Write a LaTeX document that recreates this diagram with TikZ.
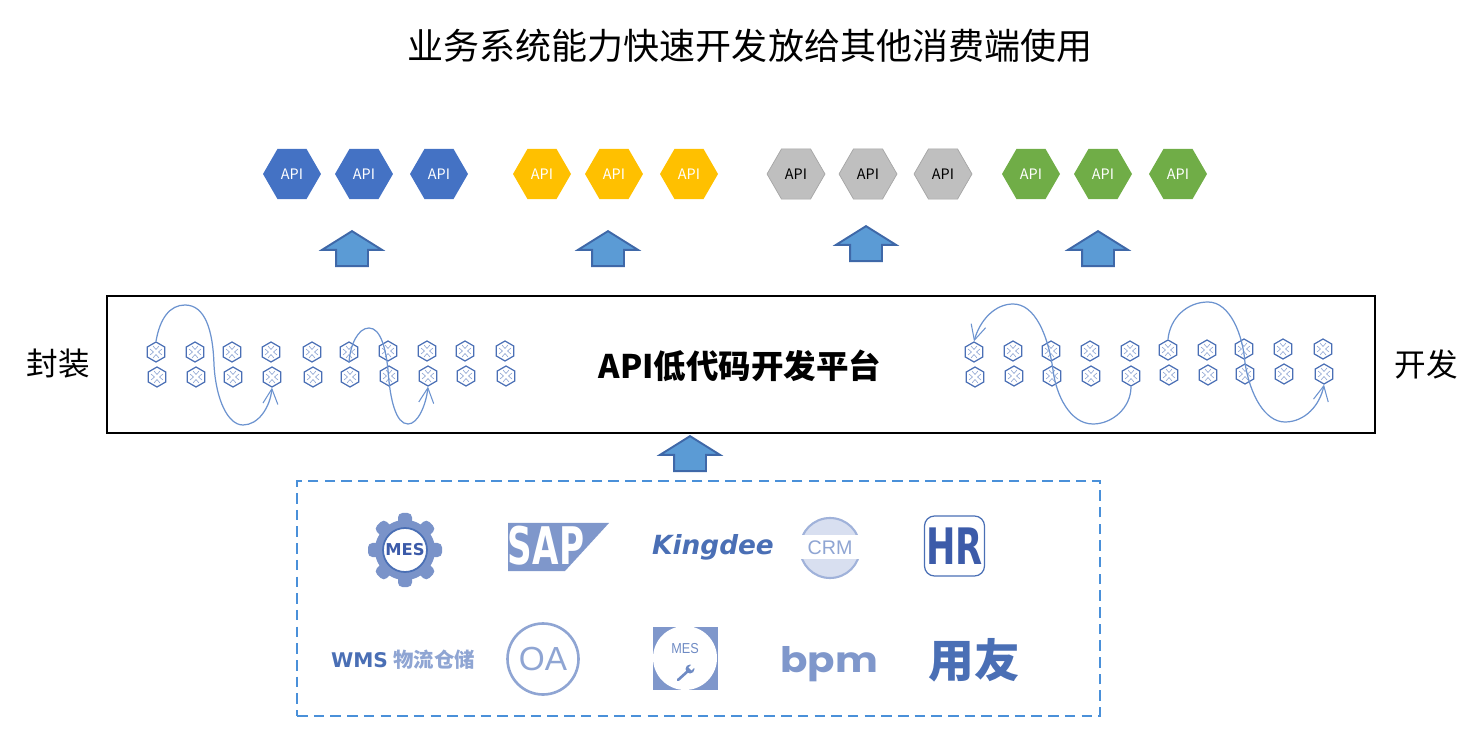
\documentclass[tikz,border=0pt]{standalone}
\usepackage{fontspec}
\setmainfont{Noto Sans CJK SC}
\newfontfamily\logofont{Liberation Sans}
\newfontfamily\heavyfont{DejaVu Sans}
\newfontfamily\bpmfont{Poppins}
\usetikzlibrary{shapes.geometric, shapes.arrows, arrows.meta}
\definecolor{logoblue}{HTML}{4A6FB5}
\definecolor{logolight}{HTML}{7F97CB}
\definecolor{logopale}{HTML}{8FA5D3}
\definecolor{hrblue}{HTML}{3C5BA9}
\definecolor{curveblue}{HTML}{6C93CF}
\definecolor{arrowfill}{HTML}{5B9BD5}
\definecolor{arrowline}{HTML}{3F68A8}
\definecolor{dashblue}{HTML}{4A90D9}
\definecolor{apiblue}{HTML}{4472C4}
\definecolor{apiyellow}{HTML}{FFC000}
\definecolor{apigrey}{HTML}{BFBFBF}
\definecolor{apigreyline}{HTML}{A5A5A5}
\definecolor{apigreen}{HTML}{70AD47}
\tikzset{
  apihex/.style={shape=regular polygon,regular polygon sides=6,inner sep=0pt,minimum size=1.16cm,font=\fontsize{8.2}{10}\selectfont},
  unit/.style={shape=regular polygon,regular polygon sides=6,shape border rotate=30,inner sep=0pt,minimum size=.4cm,draw=logoblue,fill=white,line width=.7pt,
    path picture={\draw[logopale,line width=.35pt,shift={(path picture bounding box.center)}] (6,-3) -- (2.5,0) -- (6,3) (-6,-3) -- (-2.5,0) -- (-6,3) (-3,6) -- (0,2.5) -- (3,6) (-3,-6) -- (0,-2.5) -- (3,-6);}},
  uparrow/.style={shape=single arrow,rotate=90,anchor=tip,single arrow head extend=.28cm,single arrow tip angle=116,inner xsep=0pt,inner ysep=.3cm,minimum width=1.16cm,minimum height=.7cm,fill=arrowfill,draw=arrowline,line width=1.1pt},
  flow/.style={draw=curveblue,line width=.7pt,-{Straight Barb[length=.3cm,width=.3cm,line width=.6pt]}},
  logotext/.style={inner sep=0pt,text=logoblue}
}
\begin{document}
\begin{tikzpicture}[x=.02cm,y=-.02cm]
  \useasboundingbox (0,0) rectangle (1484,756);
  \node[inner sep=0pt,font=\fontsize{20.5}{24}\selectfont] (title) at (750,46) {业务系统能力快速开发放给其他消费端使用};
  % api groups
  \foreach \i/\x in {1/292,2/364,3/439} \node[apihex,fill=apiblue,text=white] (b\i) at (\x,174) {API};
  \foreach \i/\x in {1/542,2/614,3/689} \node[apihex,fill=apiyellow,text=white] (y\i) at (\x,174) {API};
  \foreach \i/\x in {1/796,2/868,3/943} \node[apihex,fill=apigrey,draw=apigreyline,text=black] (g\i) at (\x,174) {API};
  \foreach \i/\x in {1/1031,2/1103,3/1178} \node[apihex,fill=apigreen,text=white] (n\i) at (\x,174) {API};
  \node[uparrow] (up1) at (352,230) {};
  \node[uparrow] (up2) at (608,230) {};
  \node[uparrow] (up3) at (866,225) {};
  \node[uparrow] (up4) at (1098,230) {};
  \node[uparrow] (up5) at (690,435) {};
  % platform
  \node[draw,line width=1.3pt,minimum width=25.36cm,minimum height=2.74cm,inner sep=0pt] (platform) at (741,364.5) {};
  \node[inner sep=0pt,font=\fontsize{18.5}{22}\selectfont\bfseries] (ptext) at (740,366) {API低代码开发平台};
  \node[inner sep=0pt,font=\fontsize{18}{22}\selectfont] (wrap) at (58,364) {封装};
  \node[inner sep=0pt,font=\fontsize{18}{22}\selectfont] (dev) at (1426,364) {开发};
  \foreach \i/\x/\y in {1/156/352,2/195/352,3/232/352,4/271/352,5/312/352,6/349/352,7/388/351,8/427/351,9/465/351,10/505/351} {
    \path (\x,\y) node[unit] (la\i) {} (\x+1,\y+25) node[unit] (lb\i) {};
  }
  \foreach \i/\x/\y in {1/974/352,2/1013/351,3/1051/351,4/1090/351,5/1130/351,6/1168/350,7/1207/350,8/1244/349,9/1283/349,10/1323/349} {
    \path (\x,\y) node[unit] (ra\i) {} (\x+1,\y+25) node[unit] (rb\i) {};
  }
  \draw[flow] (la1.north) .. controls (160,318) and (170,305) .. (185,305) .. controls (205,305) and (213,330) .. (214,365) .. controls (216,400) and (228,425) .. (243,425) .. controls (258,425) and (270,408) .. (lb4.south);
  \draw[flow] (la6.south) .. controls (350,345) and (358,328) .. (369,328) .. controls (381,328) and (386,350) .. (388,370) .. controls (390,400) and (396,424) .. (408,424) .. controls (418,424) and (426,405) .. (lb8.south);
  \draw[flow] (rb5.south) .. controls (1131,408) and (1112,424) .. (1093,424) .. controls (1070,424) and (1056,395) .. (1053,370) .. controls (1048,335) and (1035,304) .. (1013,304) .. controls (995,304) and (980,320) .. (ra1.north);
  \draw[flow] (ra6.north) .. controls (1170,318) and (1187,302) .. (1208,302) .. controls (1230,302) and (1243,335) .. (1245,363) .. controls (1250,395) and (1265,422) .. (1285,422) .. controls (1305,422) and (1320,405) .. (rb10.south);
  % systems
  \node[draw=dashblue,line width=1pt,dash pattern=on 6pt off 3.5pt,minimum width=16.06cm,minimum height=4.7cm,inner sep=0pt] (systems) at (698.5,598.5) {};
  % gear
  \foreach \a in {0,45,...,315} \fill[logolight!90!logoblue,rounded corners=2.5pt,shift={(405,550)},rotate=\a] (-7,-37) rectangle (7,-20);
  \fill[logolight!90!logoblue] (405,550) circle[radius=30];
  \node[circle,draw=logoblue,fill=white,line width=1pt,minimum size=.88cm,inner sep=0pt] (mesring) at (405,550) {};
  \node[logotext,text=hrblue,font=\heavyfont\fontsize{9.3}{12}\selectfont\bfseries] (mesa) at (405,550) {MES};
  % sap
  \fill[logolight] (508,523) -- (609,523) -- (565,571) -- (508,571) -- cycle;
  \node[logotext,text=white,xscale=.66,font=\heavyfont\fontsize{29.5}{30}\selectfont\bfseries] (sap) at (546,546) {SAP};
  \node[logotext,font=\heavyfont\fontsize{15}{18}\selectfont\bfseries\itshape] (kingdee) at (713,547) {Kingdee};
  % crm
  \draw[fill=logopale!35,draw=logopale!85,line width=1.2pt] (830,548) circle[radius=30];
  \fill[white] (798,535) rectangle (862,559);
  \node[logotext,text=logopale,font=\logofont\fontsize{11.2}{13}\selectfont] (crm) at (830,548) {CRM};
  % hr
  \node[draw=logoblue,rounded corners=.2cm,line width=.7pt,minimum size=1.2cm,inner sep=0pt] (hrbox) at (954.5,546) {};
  \node[logotext,text=hrblue,xscale=.7,font=\heavyfont\fontsize{28.6}{30}\selectfont\bfseries] (hr) at (954.5,546) {HR};
  % lower row
  \node[logotext,font=\heavyfont\fontsize{11.5}{15}\selectfont\bfseries] (wms) at (359.5,660) {WMS};
  \node[logotext,text=logopale,font=\fontsize{11.6}{14}\selectfont\bfseries] (store) at (434,660) {物流仓储};
  \node[circle,draw=logopale,line width=1.5pt,minimum size=1.42cm,inner sep=0pt,text=logopale,font=\logofont\fontsize{19}{21}\selectfont] (oa) at (543,659) {OA};
  \fill[logolight] (653,627) rectangle (718,690);
  \fill[white] (685,658) circle[radius=32];
  \node[logotext,text=logolight!70!logoblue,xscale=.88,font=\logofont\fontsize{8.2}{10}\selectfont] (mesb) at (685,649) {MES};
  \draw[logolight!70!logoblue,line width=1.5pt,line cap=round] (678,680) -- (688,671);
  \fill[logolight!70!logoblue] (690,669) circle[radius=4.5];
  \fill[white,shift={(690,669)},rotate=45] (0,-2) rectangle (6,2);
  \node[logotext,text=logolight,xscale=1.15,font=\bpmfont\fontsize{20}{22}\selectfont\bfseries] (bpm) at (829,664) {bpm};
  \node[logotext,font=\fontsize{26}{28}\selectfont\bfseries] (yonyou) at (974,660) {用友};
\end{tikzpicture}
\end{document}
